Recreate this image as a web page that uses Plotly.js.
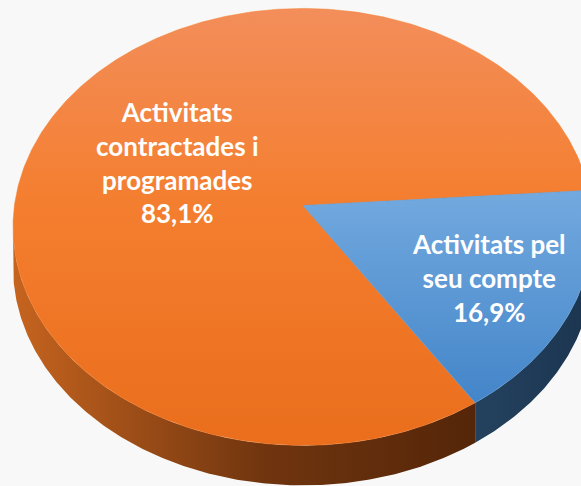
<!DOCTYPE html>
<html>
<head>
<meta charset="utf-8">
<script src="https://cdn.plot.ly/plotly-3.0.1.min.js"></script>
<style>html,body{margin:0;padding:0;background:#f8f8f8;}#chart{width:581px;height:486px;}</style>
</head>
<body>
<div id="chart"></div>
<script>
// ---- data ----
const categories = ['Activitats contractades i programades', 'Activitats pel seu compte'];
const values = [83.1, 16.9];
const valueLabels = ['83,1%', '16,9%'];
const labelLines = [['Activitats', 'contractades i', 'programades'], ['Activitats pel', 'seu compte']];

// ---- styling / geometry of the 3D pie view ----
const topColors = [
  [[0, '#F38E5B'], [0.45, '#F47E2F'], [1, '#EA6E1C']],
  [[0, '#74AADF'], [1, '#4385C9']]
];
const topRange = [[6, 445], [186, 404]];
const sideColors = [
  [[0, '#C6641F'], [0.55, '#70350F'], [1, '#552609']],
  [[0, '#24425F'], [1, '#1C3651']]
];
const sideRange = [[13, 470], [470, 581]];
const flatColors = ['#F47E2F', '#5B9BD5'];
const labelPos = [[177, 162], [489, 278]];

const cx = 303, cy = 205.5, A = 288.6, B = 216.4, persp = 0.098, depth = 40;
const rotation = 146.8; // degrees clockwise from 12 o'clock where the first slice starts

function proj(thetaDeg, dz) {
  const t = thetaDeg * Math.PI / 180;
  const u = Math.sin(t), v = -Math.cos(t);
  const s = 1 / (1 - persp * v);
  return [cx + A * u * s, cy + B * v * s + dz];
}

// find visible front arc (between leftmost and rightmost rim points)
let thR = 0, thL = 0, maxX = -1e9, minX = 1e9;
for (let t = 0; t < 360; t += 0.05) {
  const [x] = proj(t, 0);
  if (x > maxX) { maxX = x; thR = t; }
  if (x < minX) { minX = x; thL = t; }
}

const total = values.reduce((a, b) => a + b, 0);
const slices = [];
let acc = rotation;
values.forEach((v, i) => {
  const span = v / total * 360;
  slices.push([acc, acc + span]);
  acc += span;
});

function arc(a, b, dz) {
  const xs = [], ys = [];
  const n = Math.max(2, Math.ceil(Math.abs(b - a) / 0.5));
  for (let k = 0; k <= n; k++) {
    const [x, y] = proj(a + (b - a) * k / n, dz);
    xs.push(x); ys.push(y);
  }
  return [xs, ys];
}

const traces = [];
// side walls
slices.forEach(([a, b], i) => {
  for (let k = -1; k <= 1; k++) {
    const lo = Math.max(a, thR + 360 * k), hi = Math.min(b, thL + 360 * k);
    if (hi > lo) {
      const [x1, y1] = arc(lo, hi, 0);
      const [x2, y2] = arc(hi, lo, depth);
      traces.push({
        type: 'scatter', mode: 'lines', x: x1.concat(x2), y: y1.concat(y2),
        fill: 'toself', line: {width: 0}, fillcolor: sideColors[i][0][1],
        fillgradient: {type: 'horizontal', colorscale: sideColors[i], start: sideRange[i][0], stop: sideRange[i][1]},
        hoverinfo: 'skip', showlegend: false
      });
    }
  }
});
// top faces
slices.forEach(([a, b], i) => {
  const [xs, ys] = arc(a, b, 0);
  traces.push({
    type: 'scatter', mode: 'lines',
    x: [cx].concat(xs, [cx]), y: [cy].concat(ys, [cy]),
    fill: 'toself', line: {width: 0.5, color: flatColors[i]}, fillcolor: flatColors[i],
    fillgradient: {type: 'vertical', colorscale: topColors[i], start: topRange[i][0], stop: topRange[i][1]},
    name: categories[i], hoverinfo: 'skip', showlegend: false
  });
});

const annotations = values.map((v, i) => ({
  x: labelPos[i][0], y: labelPos[i][1], xref: 'x', yref: 'y',
  text: labelLines[i].concat([valueLabels[i]]).join('<br>'),
  showarrow: false, align: 'center', xanchor: 'center', yanchor: 'middle',
  font: {family: 'Lato', size: 26, color: '#FFFFFF', weight: 700}
}));

const layout = {
  width: 581, height: 486,
  margin: {l: 0, r: 0, t: 0, b: 0, pad: 0},
  paper_bgcolor: '#F8F8F8', plot_bgcolor: '#F8F8F8',
  xaxis: {range: [0, 581], visible: false, fixedrange: true},
  yaxis: {range: [486, 0], visible: false, fixedrange: true},
  showlegend: false,
  annotations: annotations
};

Plotly.newPlot('chart', traces, layout, {staticPlot: true, displayModeBar: false});
</script>
</body>
</html>
